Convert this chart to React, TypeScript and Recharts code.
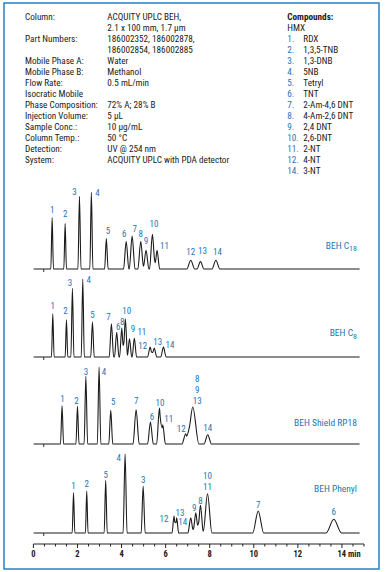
import { ComposedChart, Line, Scatter, XAxis, YAxis, ReferenceLine } from "recharts"

const BLUE = "#1d76b8"
const INK = "#1a1a1a"
const FONT = "'Liberation Sans Narrow', 'Roboto Condensed', 'DejaVu Sans Condensed', 'Liberation Sans', sans-serif"

// peak labels, retention time (min), height (au), half base width (min)
const C18_PEAKS = ["1", "2", "3", "4", "5", "6", "7", "8", "9", "10", "11", "12", "13", "14"]
const C18_TIMES = [0.85, 1.44, 2.09, 2.63, 3.31, 4.21, 4.48, 4.87, 5.11, 5.4, 5.61, 7.14, 7.58, 8.28]
const C18_HEIGHTS = [51.4, 45.4, 72.7, 76.7, 30.4, 27.7, 33, 27.7, 18.7, 34.7, 18.7, 8.7, 7.4, 8.7]
const C18_WIDTHS = [0.06, 0.06, 0.07, 0.07, 0.08, 0.12, 0.13, 0.13, 0.13, 0.13, 0.12, 0.18, 0.16, 0.18]

const C8_PEAKS = ["1", "2", "3", "4", "5", "7", "6", "8", "10", "9", "11", "12", "13", "14"]
const C8_TIMES = [0.88, 1.5, 1.77, 2.24, 2.68, 3.54, 3.78, 4.01, 4.17, 4.36, 4.58, 5.3, 5.48, 5.9]
const C8_HEIGHTS = [43.3, 37.3, 68.7, 78, 35, 33.3, 24.7, 29, 38.3, 18.3, 19, 10, 9, 10]
const C8_WIDTHS = [0.06, 0.06, 0.07, 0.07, 0.08, 0.1, 0.1, 0.1, 0.1, 0.1, 0.1, 0.12, 0.12, 0.12]

const SHIELD_PEAKS = ["1", "2", "3", "4", "5", "7", "6", "10", "11", "12", "8,9,13", "14"]
const SHIELD_TIMES = [1.3, 2.0, 2.38, 2.98, 3.51, 4.66, 5.31, 5.72, 5.87, 6.91, 7.23, 7.91]
const SHIELD_HEIGHTS = [38.3, 37.6, 67.7, 77, 33.7, 34.3, 22, 36, 19.3, 10.3, 37, 9.3]
const SHIELD_WIDTHS = [0.07, 0.07, 0.08, 0.08, 0.09, 0.14, 0.13, 0.13, 0.12, 0.17, 0.28, 0.17]

const PHENYL_PEAKS = ["1", "2", "5", "4", "3", "12", "13", "14", "9", "8", "10,11", "7", "6"]
const PHENYL_TIMES = [1.82, 2.42, 3.28, 4.16, 4.98, 6.38, 6.5, 7.14, 7.37, 7.58, 7.9, 10.2, 13.63]
const PHENYL_HEIGHTS = [40.3, 42, 52.7, 79.3, 47, 17, 15.3, 15.3, 20.3, 27.7, 39.3, 22, 13.7]
const PHENYL_WIDTHS = [0.06, 0.06, 0.07, 0.09, 0.09, 0.09, 0.09, 0.13, 0.13, 0.13, 0.2, 0.25, 0.35]

const INJECTION_TIME = 0.47
const TRACE_END = 14.8
const AXIS_TICKS = [0, 0.5, 1, 1.5, 2, 2.5, 3, 3.5, 4, 4.5, 5, 5.5, 6, 6.5, 7, 7.5, 8, 8.5, 9, 9.5, 10, 10.5, 11, 11.5, 12, 12.5, 13, 13.5, 14, 14.5, 15]
const AXIS_LABELS = ["0", "2", "4", "6", "8", "10", "12", "14 min"]

// label offsets from peak apex (px)
const C18_DX = [0, 0, -5, 6, 1.5, -2, 2.5, 0, 0, 1.5, 7.5, 0, 2, 1.5]
const C18_DY = [-8, -10, -4.5, 0, -8, -8, -7, -8, -10, -11, -5, -9, -10.5, -9]
const C8_DX = [0, -1, -2.5, 6, 0, -3, 1.5, 0.5, 1.5, 3.5, 7.5, -7.5, 3.5, 6.5]
const C8_DY = [-8, -9, -6, 1, -7, -7, -6, -6, -7.5, -10, -6, -1, -6, -2.5]
const SHIELD_DX = [0.5, -1, 0, 5, 2.5, 0, 1.5, 0.5, 6, -4.5, 4.5, 0]
const SHIELD_DY = [-7, -6, -5, 4.7, -8.7, -9.3, -5.7, -5.7, -5.7, -4.7, -6.3, -6.7]
const PHENYL_DX = [0, 0, 0, -6.3, 0, -10, 3.3, -8, -1.7, 0, 0, 0, 0]
const PHENYL_DY = [-6.7, -7.3, -5.3, 4, -6.3, 2.7, -5, 4.3, -5, -4.3, -7.4, -6.7, -7.6]

const LEFT_LABELS = ["Column:", "", "Part Numbers:", "", "Mobile Phase A:", "Mobile Phase B:", "Flow Rate:", "Isocratic Mobile", "Phase Composition:", "Injection Volume:", "Sample Conc.:", "Column Temp.:", "Detection:", "System:"]
const LEFT_VALUES = ["ACQUITY UPLC BEH,", "2.1 x 100 mm, 1.7 µm", "186002352, 186002878,", "186002854, 186002885", "Water", "Methanol", "0.5 mL/min", "", "72% A; 28% B", "5 µL", "10 µg/mL", "50 °C", "UV @ 254 nm", "ACQUITY UPLC with PDA detector"]
const COMPOUND_NUMBERS = ["1.", "2.", "3.", "4.", "5.", "6.", "7.", "8.", "9.", "10.", "11.", "12.", "14."]
const COMPOUND_NAMES = ["RDX", "1,3,5-TNB", "1,3-DNB", "5NB", "Tetryl", "TNT", "2-Am-4,6 DNT", "4-Am-2,6 DNT", "2,4 DNT", "2,6-DNT", "2-NT", "4-NT", "3-NT"]

const Y_TOP = 95
const Y_BOTTOM = -11
const PLOT_H = Y_TOP - Y_BOTTOM
const MARGIN = { top: 0, right: 21, bottom: 0, left: 33.4 }

function buildTrace(times: number[], heights: number[], widths: number[]) {
  const xs = new Set<number>([0, TRACE_END])
  times.forEach((t, i) => {
    xs.add(+(t - widths[i]).toFixed(4))
    xs.add(t)
    xs.add(+(t + widths[i]).toFixed(4))
  })
  return [...xs]
    .sort((a, b) => a - b)
    .map((x) => ({
      t: x,
      v: times.reduce((s, t, i) => s + Math.max(0, heights[i] * (1 - Math.abs(x - t) / widths[i])), 0),
    }))
}

function PeakLabel(props: any) {
  const { cx, cy, payload } = props
  const lines: string[] = payload.label.split(",")
  const gap = 11
  return (
    <g>
      {lines.map((s, i) => (
        <text
          key={i}
          x={cx + payload.dx}
          y={cy + payload.dy + 3.2 - (lines.length - 1 - i) * gap}
          textAnchor="middle"
          fill={BLUE}
          fontSize={9}
          fontFamily={FONT}
        >
          {s}
        </text>
      ))}
    </g>
  )
}

function AxisTick(props: any) {
  const { x, y, payload } = props
  const v = payload.value
  const major = v % 2 === 0
  const idx = v / 2
  const label = major ? AXIS_LABELS[idx] : null
  const hasUnit = label && label.includes(" ")
  return (
    <g>
      <line x1={x} y1={y} x2={x} y2={y + (major ? 4 : 2.5)} stroke="#222" strokeWidth={1} />
      {label && (
        <text
          x={hasUnit ? x - 4.5 : x}
          y={y + 12.5}
          textAnchor={hasUnit ? "start" : "middle"}
          fill={INK}
          fontSize={8.5}
          fontWeight="bold"
          fontFamily={FONT}
        >
          {label}
        </text>
      )}
    </g>
  )
}

function Panel(p: {
  baseline: number
  peaks: string[]
  times: number[]
  heights: number[]
  widths: number[]
  dx: number[]
  dy: number[]
  axis?: boolean
}) {
  const trace = buildTrace(p.times, p.heights, p.widths)
  const labels = p.peaks.map((label, i) => ({ t: p.times[i], h: p.heights[i], label, dx: p.dx[i], dy: p.dy[i] }))
  const axisH = p.axis ? 20 : 0
  return (
    <div style={{ position: "absolute", left: 0, top: p.baseline - Y_TOP }}>
      <ComposedChart width={385} height={PLOT_H + axisH} margin={MARGIN}>
        <XAxis
          dataKey="t"
          type="number"
          domain={[0, 15]}
          allowDataOverflow
          hide={!p.axis}
          height={axisH}
          ticks={AXIS_TICKS}
          interval={0}
          tick={<AxisTick />}
          tickLine={false}
          tickSize={0}
          tickMargin={0}
          axisLine={{ stroke: "#222", strokeWidth: 1 }}
        />
        <YAxis hide type="number" domain={[Y_BOTTOM, Y_TOP]} allowDataOverflow />
        <ReferenceLine
          segment={[{ x: INJECTION_TIME, y: 0 }, { x: INJECTION_TIME, y: -3 }]}
          stroke="#333"
          strokeWidth={1}
        />
        <Line
          data={trace}
          dataKey="v"
          type="monotone"
          stroke={INK}
          strokeWidth={1.1}
          dot={false}
          isAnimationActive={false}
        />
        <Scatter data={labels} dataKey="h" shape={<PeakLabel />} isAnimationActive={false} />
      </ComposedChart>
    </div>
  )
}

function Header() {
  const row = (i: number) => 16.7 + i * 11 + 3.3
  return (
    <g fontFamily={FONT} fontSize={9.2} fill={INK}>
      {LEFT_LABELS.map((s, i) => (
        <text key={"l" + i} x={25} y={row(i)}>{s}</text>
      ))}
      {LEFT_VALUES.map((s, i) => (
        <text key={"v" + i} x={107.3} y={row(i)}>{s}</text>
      ))}
      <text x={287.3} y={row(0)} fontWeight="bold">Compounds:</text>
      <text x={287.3} y={row(1)}>HMX</text>
      {COMPOUND_NUMBERS.map((s, i) => (
        <text key={"n" + i} x={287.3} y={row(i + 2)} fill={BLUE}>{s}</text>
      ))}
      {COMPOUND_NAMES.map((s, i) => (
        <text key={"c" + i} x={303.3} y={row(i + 2)}>{s}</text>
      ))}
    </g>
  )
}

export default function App() {
  return (
    <div style={{ position: "absolute", left: 0, top: 0, width: 385, height: 572, background: "#fff", overflow: "hidden" }}>
      <Panel baseline={268.7} peaks={C18_PEAKS} times={C18_TIMES} heights={C18_HEIGHTS} widths={C18_WIDTHS} dx={C18_DX} dy={C18_DY} />
      <Panel baseline={357.3} peaks={C8_PEAKS} times={C8_TIMES} heights={C8_HEIGHTS} widths={C8_WIDTHS} dx={C8_DX} dy={C8_DY} />
      <Panel baseline={444.3} peaks={SHIELD_PEAKS} times={SHIELD_TIMES} heights={SHIELD_HEIGHTS} widths={SHIELD_WIDTHS} dx={SHIELD_DX} dy={SHIELD_DY} />
      <Panel baseline={532.5} peaks={PHENYL_PEAKS} times={PHENYL_TIMES} heights={PHENYL_HEIGHTS} widths={PHENYL_WIDTHS} dx={PHENYL_DX} dy={PHENYL_DY} axis />
      <svg width={385} height={572} style={{ position: "absolute", left: 0, top: 0, pointerEvents: "none" }}>
        <rect x={4} y={3} width={375} height={566} fill="none" stroke={BLUE} strokeWidth={1.4} />
        <Header />
        <g fontFamily={FONT} fontSize={9.5} fill={BLUE} textAnchor="end">
          <text x={357} y={248.7}>BEH C<tspan fontSize={8} dy={2.5}>18</tspan></text>
          <text x={357} y={336}>BEH C<tspan fontSize={8} dy={2.5}>8</tspan></text>
          <text x={357} y={426}>BEH Shield RP18</text>
          <text x={357} y={491.5}>BEH Phenyl</text>
        </g>
      </svg>
    </div>
  )
}
